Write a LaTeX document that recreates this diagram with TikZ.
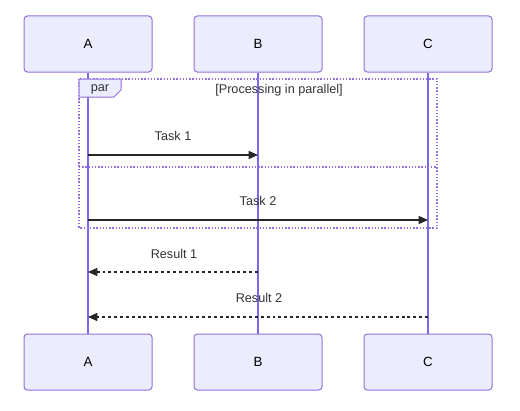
\documentclass[tikz,border=0pt]{standalone}
\usepackage{fontspec}
\setmainfont{Liberation Sans}
\usetikzlibrary{arrows.meta}
\definecolor{actfill}{HTML}{ECECFF}
\definecolor{actline}{HTML}{9370DB}
\definecolor{lifeln}{HTML}{7B68EE}
\definecolor{txt}{HTML}{333333}
\begin{document}
\begin{tikzpicture}[x=0.75pt,y=-0.75pt,
  actor/.style={draw=actline,fill=actfill,rounded corners=2.5pt,line width=0.75pt,minimum width=96pt,minimum height=42pt,inner sep=0pt,font=\fontsize{10}{12}\selectfont,text=black},
  life/.style={draw=lifeln,line width=1.1pt},
  msg/.style={draw=black!85,line width=1pt,-{Triangle[length=7pt,width=6pt]}},
  rmsg/.style={msg,dash pattern=on 2.2pt off 2.2pt},
  lbl/.style={font=\fontsize{9.5}{11}\selectfont,text=txt,inner sep=0pt},
  frame/.style={draw=actline,line width=1.1pt,dash pattern=on 1.1pt off 1.3pt}]
\useasboundingbox (0,0) rectangle (520,410);
% actors
\node[actor] (At) at (88,44) {A};
\node[actor] (Bt) at (258,44) {B};
\node[actor] (Ct) at (428,44) {C};
\node[actor] (Ab) at (88,362) {A};
\node[actor] (Bb) at (258,362) {B};
\node[actor] (Cb) at (428,362) {C};
% lifelines
\draw[life] (At.south) -- (Ab.north);
\draw[life] (Bt.south) -- (Bb.north);
\draw[life] (Ct.south) -- (Cb.north);
% par frame
\draw[frame] (79,79) rectangle (437,228);
\draw[frame] (79,167) -- (437,167);
\draw[draw=actline,fill=actfill,line width=0.75pt] (79,79) -- (121,79) -- (121,90) -- (114,97) -- (79,97) -- cycle;
\node[lbl] (parlbl) at (100,89) {par};
\node[lbl] (cond) at (279,90) {[Processing in parallel]};
% message anchors
\coordinate (a1) at (88,155);
\coordinate (b1) at (258,155);
\coordinate (a2) at (88,220);
\coordinate (c2) at (428,220);
\coordinate (b3) at (258,272);
\coordinate (a3) at (88,272);
\coordinate (c4) at (428,317);
\coordinate (a4) at (88,317);
\draw[msg] (a1) -- (b1);
\node[lbl] (t1) at (173,136) {Task 1};
\draw[msg] (a2) -- (c2);
\node[lbl] (t2) at (258,201) {Task 2};
\draw[rmsg] (b3) -- (a3);
\node[lbl] (r1) at (174,254) {Result 1};
\draw[rmsg] (c4) -- (a4);
\node[lbl] (r2) at (259,298) {Result 2};
\end{tikzpicture}
\end{document}
